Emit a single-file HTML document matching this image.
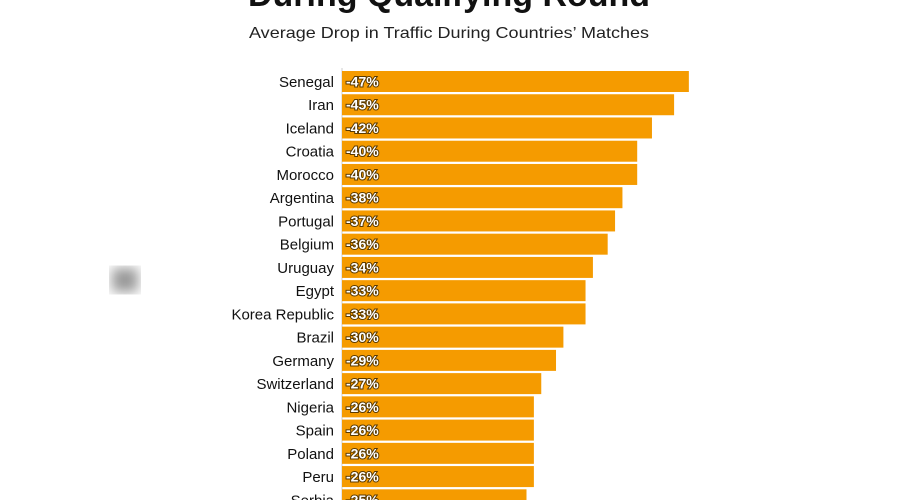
<!DOCTYPE html>
<html><head><meta charset="utf-8"><style>
html,body{margin:0;padding:0;background:#fff;width:900px;height:500px;overflow:hidden}
</style></head><body>
<svg width="900" height="500" xmlns="http://www.w3.org/2000/svg" font-family="Liberation Sans, sans-serif">
<defs><filter id="b"><feGaussianBlur stdDeviation="6"/></filter></defs>
<rect x="112" y="268" width="26" height="24" fill="#999" filter="url(#b)"/>
<text x="449" y="6" text-anchor="middle" font-size="34" font-weight="bold" fill="#111" textLength="402" lengthAdjust="spacingAndGlyphs">During Qualifying Round</text>
<text x="449" y="38" text-anchor="middle" font-size="16" fill="#222" textLength="400" lengthAdjust="spacingAndGlyphs">Average Drop in Traffic During Countries’ Matches</text>
<line x1="342" y1="68" x2="342" y2="500" stroke="#ccc" stroke-width="1"/>
<g id="bars"></g>
</svg>
<script>
var d=[["Senegal",47],["Iran",45],["Iceland",42],["Croatia",40],["Morocco",40],["Argentina",38],["Portugal",37],["Belgium",36],["Uruguay",34],["Egypt",33],["Korea Republic",33],["Brazil",30],["Germany",29],["Switzerland",27],["Nigeria",26],["Spain",26],["Poland",26],["Peru",26],["Serbia",25]];
var g=document.getElementById("bars"),s="";
d.forEach(function(r,i){var y=71+i*23.24,w=r[1]*7.38;
s+='<rect x="342" y="'+y+'" width="'+w+'" height="21" fill="#f59b00"/>';
s+='<text x="334" y="'+(y+16)+'" text-anchor="end" font-size="15" fill="#111">'+r[0]+'</text>';
s+='<text x="346" y="'+(y+15.5)+'" font-size="14" font-weight="bold" fill="#fff" stroke="#5a3a00" stroke-width="2" paint-order="stroke">-'+r[1]+'%</text>';});
g.innerHTML=s;
</script>
</body></html>
